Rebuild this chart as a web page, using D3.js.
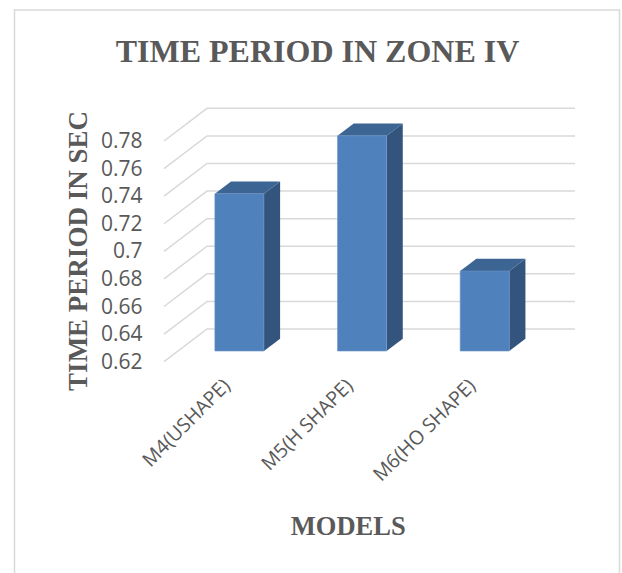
<!DOCTYPE html>
<html>
<head>
<meta charset="utf-8">
<script src="https://cdn.jsdelivr.net/npm/d3@7"></script>
<style>
  html, body { margin: 0; padding: 0; background: #fff; }
  svg { display: block; }
</style>
</head>
<body>
<svg id="chart" width="622" height="573"></svg>
<script>
const categories = ["M4(USHAPE)", "M5(H SHAPE)", "M6(HO SHAPE)"];
const values = [0.734, 0.776, 0.678];
const tickValues = [0.62, 0.64, 0.66, 0.68, 0.70, 0.72, 0.74, 0.76, 0.78];
const tickLabels = ["0.62", "0.64", "0.66", "0.68", "0.7", "0.72", "0.74", "0.76", "0.78"];
const chartTitle = "TIME PERIOD IN ZONE IV";
const yTitle = "TIME PERIOD IN SEC";
const xTitle = "MODELS";

const svg = d3.select("#chart");

// 3D geometry
const depthDX = 43, depthDY = -32.7;
const barDepth0 = 0.327, barDepth1 = 0.703;

const x = d3.scaleBand().domain(categories).range([164, 532]).paddingInner(0.6).paddingOuter(0.3);
const y = d3.scaleLinear().domain([0.62, 0.78]).range([361.7, 141]);

const proj = (px, v, d) => [px + d * depthDX, y(v) + d * depthDY];

// outer frame
svg.append("rect").attr("x", 14.5).attr("y", 10).attr("width", 605).attr("height", 580)
  .attr("fill", "#fff").attr("stroke", "#d9d9d9").attr("stroke-width", 1.5);

// gridlines: side wall diagonal + back wall horizontal
const grid = svg.append("g").attr("fill", "none").attr("stroke", "#d9d9d9").attr("stroke-width", 1.5);
const xL = x.range()[0], xR = x.range()[1];
tickValues.forEach(t => {
  const p0 = proj(xL, t, 0), p1 = proj(xL, t, 1), p2 = proj(xR, t, 1);
  grid.append("path").attr("d", d3.line()([p0, p1, p2]));
});

// tick labels
svg.append("g").selectAll("text").data(tickValues).join("text")
  .attr("x", 142.5).attr("y", (d) => y(d) - 1)
  .attr("text-anchor", "end").attr("dominant-baseline", "central")
  .attr("font-family", "'Open Sans', sans-serif").attr("font-size", 21).attr("fill", "#595959")
  .text((d, i) => tickLabels[i]);

// bars
const bars = svg.append("g");
categories.forEach((c, i) => {
  const v = values[i];
  const bx0 = x(c), bx1 = x(c) + x.bandwidth();
  const fTL = proj(bx0, v, barDepth0), fTR = proj(bx1, v, barDepth0);
  const fBL = proj(bx0, 0.62, barDepth0), fBR = proj(bx1, 0.62, barDepth0);
  const bTL = proj(bx0, v, barDepth1), bTR = proj(bx1, v, barDepth1);
  const bBR = proj(bx1, 0.62, barDepth1);
  bars.append("path").attr("d", d3.line()([fTR, bTR, bBR, fBR]) + "Z").attr("fill", "#32547d");
  bars.append("path").attr("d", d3.line()([fTL, bTL, bTR, fTR]) + "Z").attr("fill", "#3d6594");
  bars.append("path").attr("d", d3.line()([fTL, fTR, fBR, fBL]) + "Z").attr("fill", "#4f81bd")
    .attr("stroke", "#6d95c6").attr("stroke-width", 0.6);
});

// category labels
svg.append("g").selectAll("text").data(categories).join("text")
  .attr("transform", (d) => `translate(${x(d) + x.bandwidth() / 2 + 6},387) rotate(-45)`)
  .attr("text-anchor", "end")
  .attr("font-family", "'Open Sans', sans-serif").attr("font-size", 19.5).attr("fill", "#595959")
  .text((d) => d);

// titles
svg.append("text").attr("x", 317.5).attr("y", 61.7).attr("text-anchor", "middle")
  .attr("font-family", "'Liberation Serif', 'Times New Roman', serif").attr("font-weight", "bold")
  .attr("font-size", 32).attr("fill", "#595959").text(chartTitle);

svg.append("text").attr("transform", "translate(87.3,251) rotate(-90)").attr("text-anchor", "middle")
  .attr("font-family", "'Liberation Serif', 'Times New Roman', serif").attr("font-weight", "bold")
  .attr("font-size", 27).attr("fill", "#595959").text(yTitle);

svg.append("text").attr("x", 348.3).attr("y", 535).attr("text-anchor", "middle")
  .attr("font-family", "'Liberation Serif', 'Times New Roman', serif").attr("font-weight", "bold")
  .attr("font-size", 26.5).attr("fill", "#595959").text(xTitle);
</script>
</body>
</html>
